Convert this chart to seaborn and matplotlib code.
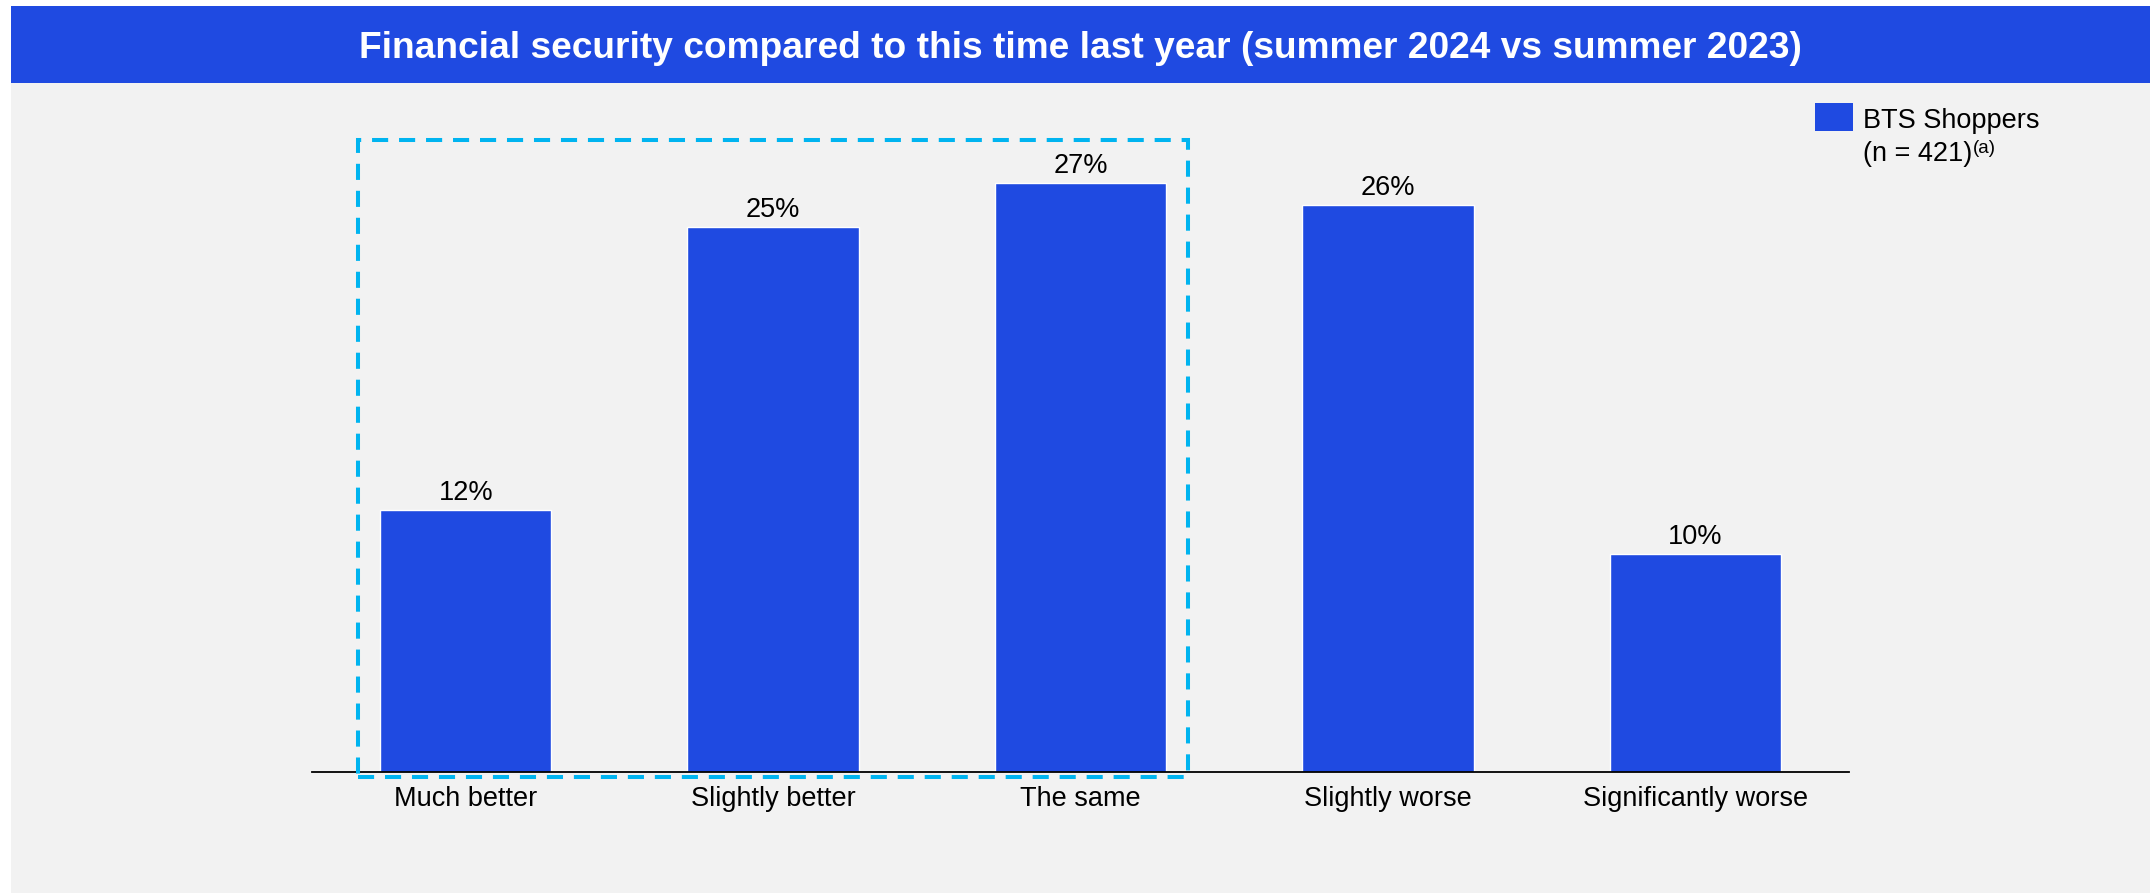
import matplotlib
matplotlib.use("Agg")
import matplotlib.pyplot as plt
from matplotlib.patches import Rectangle
import seaborn as sns

# Survey results
categories = ["Much better", "Slightly better", "The same", "Slightly worse", "Significantly worse"]
shares = [12, 25, 27, 26, 10]
title = "Financial security compared to this time last year (summer 2024 vs summer 2023)"
legend_name = "BTS Shoppers"
legend_base = "(n = 421)"
legend_note = "(a)"
highlighted = ["Much better", "Slightly better", "The same"]

BLUE = "#1F4AE1"
CYAN = "#00B4F0"
PANEL = "#F2F2F2"

sns.set_theme(style="white")
plt.rcParams["font.family"] = ["Liberation Sans", "DejaVu Sans"]

W, H = 2153, 896
fig = plt.figure(figsize=(W / 100, H / 100), dpi=100)
fig.patch.set_facecolor("white")


def fx(px):
    return px / W


def fy(py):
    return 1 - py / H


# Background panel and title banner
fig.add_artist(Rectangle((fx(11), fy(893)), fx(2150) - fx(11), fy(83) - fy(893),
                         transform=fig.transFigure, color=PANEL, zorder=-2, lw=0))
fig.add_artist(Rectangle((fx(11), fy(83)), fx(2150) - fx(11), fy(6) - fy(83),
                         transform=fig.transFigure, color=BLUE, zorder=-1, lw=0))
fig.text(fx(1080), fy(58), title, ha="center", va="baseline", color="white",
         fontsize=26.7, fontweight="bold")

ax = fig.add_axes([fx(312), fy(772), fx(1849) - fx(312), fy(118) - fy(772)])
ax.set_facecolor("none")

sns.barplot(x=categories, y=shares, color=BLUE, saturation=1, width=0.557, ax=ax)
ax.set_xlim(-0.5, len(categories) - 0.5)
ax.set_ylim(0, 30)

for container in ax.containers:
    ax.bar_label(container, labels=[f"{v}%" for v in shares], padding=3.1,
                 fontsize=19.5, color="black")

for side in ["top", "left", "right"]:
    ax.spines[side].set_visible(False)
ax.spines["bottom"].set_color("black")
ax.spines["bottom"].set_linewidth(1.3)
ax.set_yticks([])
ax.set_xlabel("")
ax.set_ylabel("")
ax.tick_params(axis="x", length=0, pad=10, labelsize=19.5, labelcolor="black")

# Dashed frame around the positive / neutral group
first = categories.index(highlighted[0])
last = categories.index(highlighted[-1])
pad = 0.35
ax.add_patch(Rectangle((first - pad, -0.25), (last - first) + 2 * pad, 29.25,
                       fill=False, edgecolor=CYAN, linewidth=2.9,
                       linestyle=(0, (4, 2.7)), clip_on=False, zorder=5))

# Legend
fig.add_artist(Rectangle((fx(1815), fy(131)), fx(1853) - fx(1815), fy(103) - fy(131),
                         transform=fig.transFigure, color=BLUE, lw=0))
fig.text(fx(1863), fy(128), legend_name, ha="left", va="baseline", fontsize=19.5, color="black")
base_txt = fig.text(fx(1863), fy(161), legend_base, ha="left", va="baseline",
                    fontsize=19.5, color="black")
fig.canvas.draw()
bb = base_txt.get_window_extent()
fig.text((bb.x1 + 1) / W, fy(153), legend_note, ha="left", va="baseline",
         fontsize=13.5, color="black")

fig.savefig("out.png", dpi=100)
